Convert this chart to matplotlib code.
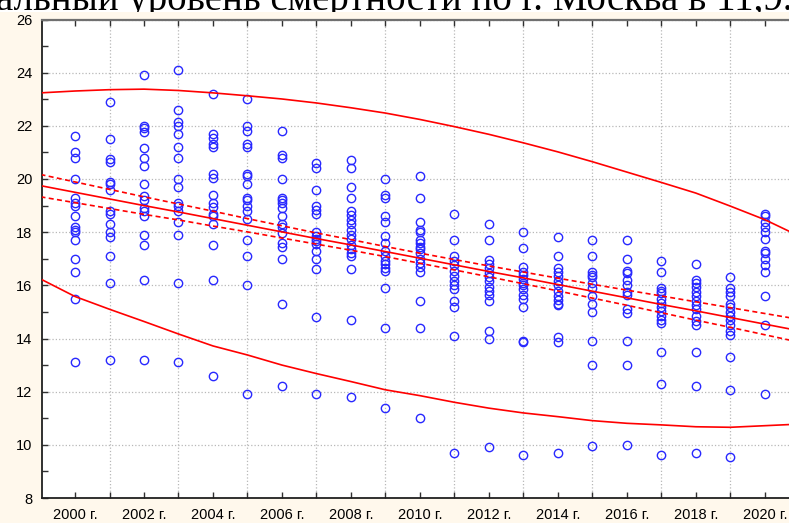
import matplotlib
matplotlib.use('Agg')
import matplotlib.pyplot as plt
from matplotlib import font_manager
from matplotlib.patches import Rectangle

# death rate per region, one list per year
years = list(range(2000, 2021))
rate_2000 = [21.6, 21.0, 20.8, 20.0, 19.3, 19.1, 19.0, 18.6, 18.2, 18.1, 18.0, 17.7, 17.0, 16.5, 15.5, 13.1]
rate_2001 = [22.9, 21.5, 20.75, 20.65, 19.9, 19.8, 19.6, 18.8, 18.7, 18.3, 18.0, 17.8, 17.1, 16.1, 13.2]
rate_2002 = [23.9, 22.0, 21.9, 21.75, 21.15, 20.8, 20.5, 19.8, 19.35, 19.2, 18.9, 18.8, 18.6, 17.9, 17.5, 16.2, 13.2]
rate_2003 = [24.1, 22.6, 22.15, 22.0, 21.7, 21.2, 20.8, 20.0, 19.7, 19.1, 19.0, 18.8, 18.4, 17.9, 16.1, 13.1]
rate_2004 = [23.2, 21.7, 21.55, 21.3, 21.2, 20.2, 20.05, 19.4, 19.1, 18.95, 18.7, 18.6, 18.3, 17.5, 16.2, 12.6]
rate_2005 = [23.0, 22.0, 21.8, 21.3, 21.2, 20.2, 20.1, 19.8, 19.3, 19.2, 19.0, 18.8, 18.5, 17.7, 17.1, 16.0, 11.9]
rate_2006 = [21.8, 20.9, 20.8, 20.0, 19.3, 19.2, 19.1, 18.9, 18.6, 18.3, 18.2, 17.95, 17.6, 17.45, 17.0, 15.3, 12.2]
rate_2007 = [20.6, 20.4, 19.6, 19.0, 18.85, 18.7, 18.0, 17.85, 17.75, 17.65, 17.55, 17.3, 17.0, 16.6, 14.8, 11.9]
rate_2008 = [20.7, 20.4, 19.7, 19.3, 18.8, 18.65, 18.45, 18.3, 18.1, 17.9, 17.75, 17.5, 17.35, 17.2, 17.1, 16.6, 14.7, 11.8]
rate_2009 = [20.0, 19.4, 19.3, 18.6, 18.4, 17.85, 17.6, 17.3, 17.1, 16.9, 16.8, 16.65, 16.55, 15.9, 14.4, 11.4]
rate_2010 = [20.1, 19.3, 18.4, 18.1, 18.0, 17.7, 17.6, 17.45, 17.35, 17.2, 17.0, 16.85, 16.7, 16.5, 15.4, 14.4, 11.0]
rate_2011 = [18.7, 17.7, 17.1, 16.9, 16.75, 16.55, 16.35, 16.15, 16.0, 15.85, 15.4, 15.2, 14.1, 9.7]
rate_2012 = [18.3, 17.7, 16.95, 16.8, 16.65, 16.45, 16.3, 16.15, 15.95, 15.8, 15.65, 15.4, 14.3, 14.0, 9.9]
rate_2013 = [18.0, 17.4, 16.7, 16.5, 16.4, 16.25, 16.1, 16.0, 15.85, 15.65, 15.5, 15.2, 13.9, 13.85, 9.6]
rate_2014 = [17.8, 17.1, 16.65, 16.5, 16.35, 16.15, 16.0, 15.8, 15.6, 15.45, 15.3, 15.25, 14.05, 13.85, 9.7]
rate_2015 = [17.7, 17.1, 16.5, 16.4, 16.3, 16.1, 15.9, 15.6, 15.3, 15.0, 13.9, 13.0, 9.95]
rate_2016 = [17.7, 17.0, 16.55, 16.45, 16.2, 16.0, 15.75, 15.65, 15.1, 14.95, 13.9, 13.0, 10.0]
rate_2017 = [16.9, 16.5, 15.9, 15.8, 15.7, 15.5, 15.35, 15.2, 15.05, 14.85, 14.7, 14.6, 13.5, 12.3, 9.6]
rate_2018 = [16.8, 16.2, 16.1, 15.95, 15.75, 15.6, 15.4, 15.25, 15.1, 14.85, 14.65, 14.5, 13.5, 12.2, 9.7]
rate_2019 = [16.3, 15.9, 15.75, 15.6, 15.3, 15.2, 15.0, 14.85, 14.7, 14.5, 14.3, 14.15, 13.3, 12.05, 9.55]
rate_2020 = [18.7, 18.6, 18.4, 18.2, 18.0, 17.75, 17.3, 17.2, 17.0, 16.75, 16.5, 15.6, 14.5, 11.9]
rates = [rate_2000, rate_2001, rate_2002, rate_2003, rate_2004, rate_2005, rate_2006,
         rate_2007, rate_2008, rate_2009, rate_2010, rate_2011, rate_2012, rate_2013,
         rate_2014, rate_2015, rate_2016, rate_2017, rate_2018, rate_2019, rate_2020]

# regression line and bands, read per year
band_years = list(range(1999, 2022))
fit_line = [19.75, 19.50, 19.25, 19.00, 18.76, 18.51, 18.26, 18.01, 17.76, 17.52, 17.27, 17.02,
            16.77, 16.52, 16.28, 16.03, 15.78, 15.53, 15.28, 15.04, 14.79, 14.54, 14.29]
ci_upper = [20.17, 19.89, 19.61, 19.33, 19.06, 18.79, 18.51, 18.24, 17.97, 17.72, 17.46, 17.21,
            16.97, 16.73, 16.50, 16.27, 16.04, 15.82, 15.60, 15.38, 15.16, 14.94, 14.72]
ci_lower = [19.33, 19.11, 18.89, 18.67, 18.46, 18.23, 18.01, 17.78, 17.55, 17.32, 17.08, 16.83,
            16.58, 16.32, 16.06, 15.79, 15.52, 15.25, 14.97, 14.69, 14.42, 14.14, 13.86]
pi_upper = [23.24, 23.31, 23.36, 23.38, 23.33, 23.24, 23.13, 23.01, 22.86, 22.68, 22.48, 22.24,
            21.97, 21.68, 21.36, 21.02, 20.65, 20.26, 19.87, 19.47, 18.98, 18.47, 17.85]
pi_lower = [16.24, 15.58, 15.10, 14.64, 14.17, 13.72, 13.38, 13.00, 12.68, 12.38, 12.07, 11.85,
            11.60, 11.38, 11.20, 11.06, 10.91, 10.81, 10.75, 10.68, 10.66, 10.72, 10.78]

year_ticks = list(range(2000, 2021, 2))
year_labels = [f'{y} г.' for y in year_ticks]
y_ticks = list(range(8, 27, 2))
header_text = 'альный уровень смертности по г. Москва в 11,9.'

names = {f.name for f in font_manager.fontManager.ttflist}
narrow = 'Liberation Sans Narrow' in names
tick_font = 'Liberation Sans Narrow' if narrow else 'Liberation Sans'
tick_size = 12.5 if narrow else 10.5

W, H = 789, 523
fig = plt.figure(figsize=(W / 100, H / 100), dpi=100, facecolor='white')

# document text above the chart, partly hidden behind the chart image
fig.text(-4 / W, 1 - 10 / H, header_text, fontsize=28, family='Liberation Serif',
         ha='left', va='baseline', zorder=1)
fig.add_artist(Rectangle((0, 0), 1, 1 - 12 / H, transform=fig.transFigure,
                         facecolor='#fff8ec', edgecolor='none', zorder=2))

ax = fig.add_axes([42 / W, 1 - 498 / H, 1 - 42 / W, (498 - 19.5) / H])
ax.set_zorder(3)
ax.set_facecolor('white')

for yr, vals in zip(years, rates):
    ax.plot([yr] * len(vals), vals, 'o', mfc='none', mec='#2828ff', ms=6, mew=1.0, zorder=3)

ax.plot(band_years, fit_line, color='red', lw=1.2, zorder=4)
ax.plot(band_years, ci_upper, color='red', lw=1.2, ls=(0, (3, 2)), zorder=4)
ax.plot(band_years, ci_lower, color='red', lw=1.2, ls=(0, (3, 2)), zorder=4)
ax.plot(band_years, pi_upper, color='red', lw=1.2, zorder=4)
ax.plot(band_years, pi_lower, color='red', lw=1.2, zorder=4)

ax.set_xlim(1999.043, 2020.70)
ax.set_ylim(8, 26)

ax.set_xticks(year_ticks)
ax.set_xticklabels(year_labels, family=tick_font, fontsize=tick_size)
ax.set_xticks([y for y in years if y % 2 == 1], minor=True)
ax.set_yticks(y_ticks)
ax.set_yticklabels([str(v) for v in y_ticks], family=tick_font, fontsize=tick_size)
ax.set_yticks(list(range(9, 26, 2)), minor=True)

ax.tick_params(which='both', direction='in', length=4, width=1, color='#303030',
               top=True, right=False)
ax.tick_params(axis='x', which='major', pad=7)
ax.tick_params(axis='y', which='major', pad=7)

ax.grid(False)
ax.xaxis.grid(True, which='minor', ls=':', color='#b8b8b8', lw=0.9)
ax.yaxis.grid(True, which='major', ls=':', color='#b8b8b8', lw=0.9)
ax.set_axisbelow(True)

for side in ['left', 'bottom']:
    ax.spines[side].set_color('#202020')
    ax.spines[side].set_linewidth(1.3)
ax.spines['top'].set_color('#707070')
ax.spines['top'].set_linewidth(1.6)
ax.spines['right'].set_visible(False)

fig.savefig('out.png', dpi=100, facecolor=fig.get_facecolor())
